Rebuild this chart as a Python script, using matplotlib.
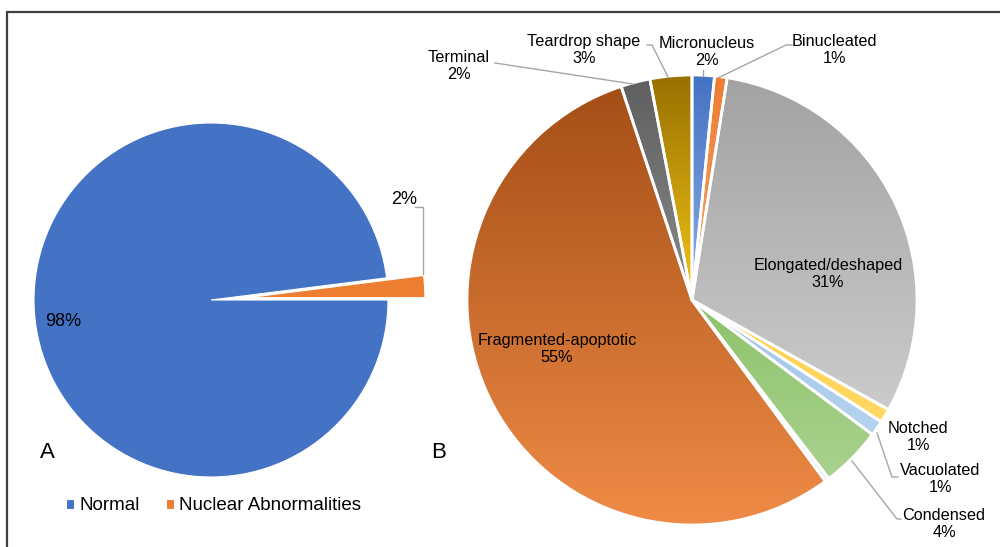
import numpy as np
import matplotlib.pyplot as plt
from matplotlib.colors import LinearSegmentedColormap

plt.rcParams["font.family"] = ["Liberation Sans", "DejaVu Sans"]

# ----------------------------------------------------------------------
# Data
# ----------------------------------------------------------------------
# panel A : all cells
a_labels = ["Normal", "Nuclear Abnormalities"]
a_values = [98, 2]
a_colors = ["#4472c4", "#ed7d31"]

# panel B : abnormality types, clockwise from 12 o'clock
b_labels = ["Micronucleus", "Binucleated", "Elongated/deshaped", "Notched",
            "Vacuolated", "Condensed", "", "Fragmented-apoptotic",
            "Terminal", "Teardrop shape"]
b_values = [1.6, 0.9, 30.6, 1.0, 1.1, 4.4, 0.3, 55.0, 2.1, 3.0]

# gradient fill (top colour, bottom colour) of each slice
b_top = ["#4472c4", "#ed7d31", "#a3a3a3", "#ffcd45", "#9dc3e6",
         "#8dc26a", "#dde9f6", "#a44e17", "#5f5f5f", "#977000"]
b_bottom = ["#8cafe6", "#f5a56b", "#cbcbcb", "#ffd966", "#b6d4ef",
            "#a9d28f", "#dde9f6", "#ef8b46", "#8a8a8a", "#f5c518"]

# ----------------------------------------------------------------------
# Layout (pixel coordinates, y measured from the top)
# ----------------------------------------------------------------------
W, H = 1000, 547


def Y(y):
    return H - y


A_CENTER, A_RADIUS, A_EXPLODE = (211, 300), 177, 37
B_CENTER, B_RADIUS = (692, 300), 225

b_text_pos = {
    "Micronucleus": (707, 52),
    "Binucleated": (834, 50),
    "Elongated/deshaped": (828, 274),
    "Notched": (918, 437),
    "Vacuolated": (940, 479),
    "Condensed": (944, 524),
    "Fragmented-apoptotic": (557, 349),
    "Terminal": (459, 66),
    "Teardrop shape": (584, 50),
}
b_leaders = {
    "Terminal": [(495, 63), (633, 84)],
    "Teardrop shape": [(647, 45), (652, 45), (668, 77)],
    "Micronucleus": [(703, 70), (703, 76)],
    "Binucleated": [(792, 45), (786, 45), (718, 78)],
    "Vacuolated": [(877, 433), (892, 477), (898, 477)],
    "Condensed": [(852, 461), (897, 519), (901, 519)],
}
LEADER = "#a6a6a6"

fig = plt.figure(figsize=(10, 5.47), dpi=100)
ax = fig.add_axes([0, 0, 1, 1])

# ---------- Panel A ----------
wa, _ = ax.pie(a_values, colors=a_colors, startangle=360 * a_values[1] / 100,
               counterclock=True, explode=[0, A_EXPLODE],
               center=(A_CENTER[0], Y(A_CENTER[1])), radius=A_RADIUS, frame=True,
               wedgeprops=dict(edgecolor="white", linewidth=0.8))

ax.text(63, Y(322), f"{a_values[0]}%", fontsize=13, ha="center", va="center")
ax.text(404, Y(200), f"{a_values[1]}%", fontsize=13, ha="center", va="center")
ax.plot([415, 423, 423], [Y(207), Y(207), Y(274)], color=LEADER, lw=1)

ax.text(47, Y(452), "A", fontsize=16, ha="center", va="center")
ax.text(439, Y(452), "B", fontsize=16, ha="center", va="center")

ax.legend(wa, a_labels, ncol=2, frameon=False, fontsize=13.5,
          loc="center left", bbox_to_anchor=(66 / W, 1 - 506 / H),
          bbox_transform=fig.transFigure, borderaxespad=0, borderpad=0,
          handlelength=0.45, handleheight=0.45, handletextpad=0.25,
          columnspacing=1.4)

# ---------- Panel B ----------
wb, _ = ax.pie(b_values, startangle=90, counterclock=False,
               center=(B_CENTER[0], Y(B_CENTER[1])), radius=B_RADIUS, frame=True,
               wedgeprops=dict(edgecolor="white", linewidth=2))

grad = np.linspace(0, 1, 256).reshape(-1, 1)
for w, c0, c1 in zip(wb, b_top, b_bottom):
    bb = w.get_path().get_extents()
    cmap = LinearSegmentedColormap.from_list("g", [c0, c1])
    im = ax.imshow(grad, cmap=cmap, extent=[bb.x0, bb.x1, bb.y0, bb.y1],
                   origin="upper", aspect="auto", interpolation="bilinear",
                   zorder=2)
    im.set_clip_path(w)
    w.set_facecolor("none")
    w.set_zorder(3)

for lab, v in zip(b_labels, b_values):
    if not lab:
        continue
    x, y = b_text_pos[lab]
    ax.text(x, Y(y), f"{lab}\n{round(v)}%", fontsize=11.7, ha="center",
            va="center", linespacing=1.2, zorder=5)
    if lab in b_leaders:
        pts = b_leaders[lab]
        ax.plot([p[0] for p in pts], [Y(p[1]) for p in pts], color=LEADER,
                lw=1, zorder=4)

# outer frame (top and left edges only are visible)
ax.plot([7, 7, W], [Y(H), Y(12), Y(12)], color="#404040", lw=1.6,
        solid_joinstyle="miter")

ax.set_xlim(0, W)
ax.set_ylim(0, H)
ax.axis("off")

fig.savefig("out.png", dpi=100)
